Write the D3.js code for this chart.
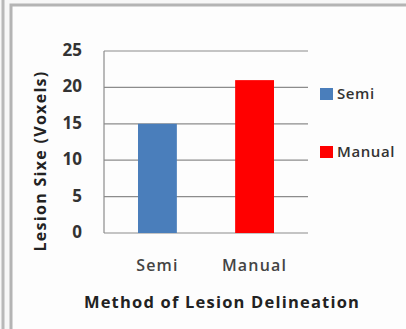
<!DOCTYPE html>
<html><head><meta charset="utf-8">
<script src="https://cdn.jsdelivr.net/npm/d3@7"></script>
<style>
html,body{margin:0;padding:0;background:#fff;overflow:hidden;}
text{font-family:"Open Sans",sans-serif;}
</style></head>
<body>
<svg id="c" width="406" height="329"></svg>
<script>
const categories = ["Semi", "Manual"];
const values = [15, 21];
const colors = ["#4a7ebb", "#ff0000"];
const yTicks = [0, 5, 10, 15, 20, 25];
const yTitle = "Lesion Sixe (Voxels)";
const xTitle = "Method of Lesion Delineation";

const svg = d3.select("#c");
// frames
svg.append("rect").attr("x",0).attr("y",0).attr("width",406).attr("height",329).attr("fill","#f7f7f7");
svg.append("line").attr("x1",3).attr("x2",3).attr("y1",0).attr("y2",329).attr("stroke","#b8b8b8").attr("stroke-width",3);
svg.append("rect").attr("x",11).attr("y",5).attr("width",420).attr("height",340)
  .attr("fill","#fdfdfd").attr("stroke","#b4b4b4").attr("stroke-width",3);

const x0 = 104, x1 = 308, yTop = 51, yBot = 233;
const y = d3.scaleLinear().domain([0,25]).range([yBot, yTop]);
const x = d3.scaleBand().domain(categories).range([x0, x1]).paddingInner(0.6).paddingOuter(0.35);

// gridlines
svg.append("g").selectAll("line").data(yTicks).join("line")
  .attr("x1", x0).attr("x2", x1)
  .attr("y1", d => y(d)).attr("y2", d => y(d))
  .attr("stroke", "#8c8c8c").attr("stroke-width", 1.2);
// y axis line
svg.append("line").attr("x1",x0).attr("x2",x0).attr("y1",yTop).attr("y2",yBot)
  .attr("stroke","#8c8c8c").attr("stroke-width",1.2);

// bars
svg.append("g").selectAll("rect").data(values).join("rect")
  .attr("x", (d,i) => x(categories[i]))
  .attr("width", x.bandwidth())
  .attr("y", d => y(d))
  .attr("height", d => yBot - y(d))
  .attr("fill", (d,i) => colors[i]);

// y tick labels
svg.append("g").selectAll("text").data(yTicks).join("text")
  .attr("x", 82).attr("y", d => y(d) - 1).attr("dy","0.35em")
  .attr("text-anchor","end").attr("font-size",17).attr("font-weight",700)
  .attr("fill","#333").text(d => d);

// x labels
svg.append("g").selectAll("text").data(categories).join("text")
  .attr("x", d => x(d) + x.bandwidth()/2).attr("y", 265).attr("dy","0.35em")
  .attr("text-anchor","middle").attr("font-size",16).attr("font-weight",600)
  .attr("letter-spacing", 1.2)
  .attr("fill","#444").text(d => d);

// titles
svg.append("text").attr("x",222).attr("y",302).attr("dy","0.35em")
  .attr("text-anchor","middle").attr("font-size",16.5).attr("font-weight",700)
  .attr("letter-spacing",1.2)
  .attr("fill","#222").text(xTitle);
svg.append("text").attr("transform","translate(40,161) rotate(-90)").attr("dy","0.35em")
  .attr("text-anchor","middle").attr("font-size",16).attr("font-weight",700)
  .attr("letter-spacing",1.3)
  .attr("fill","#222").text(yTitle);

// legend
const lg = svg.append("g").selectAll("g").data(categories).join("g")
  .attr("transform", (d,i) => `translate(320,${94 + i*58})`);
lg.append("rect").attr("x",0).attr("y",-6).attr("width",13).attr("height",12)
  .attr("fill",(d,i) => colors[i]);
lg.append("text").attr("x",17).attr("y",0).attr("dy","0.35em")
  .attr("font-size",15).attr("font-weight",600).attr("letter-spacing",0.6)
  .attr("fill","#333").text(d => d);
</script>
</body></html>
